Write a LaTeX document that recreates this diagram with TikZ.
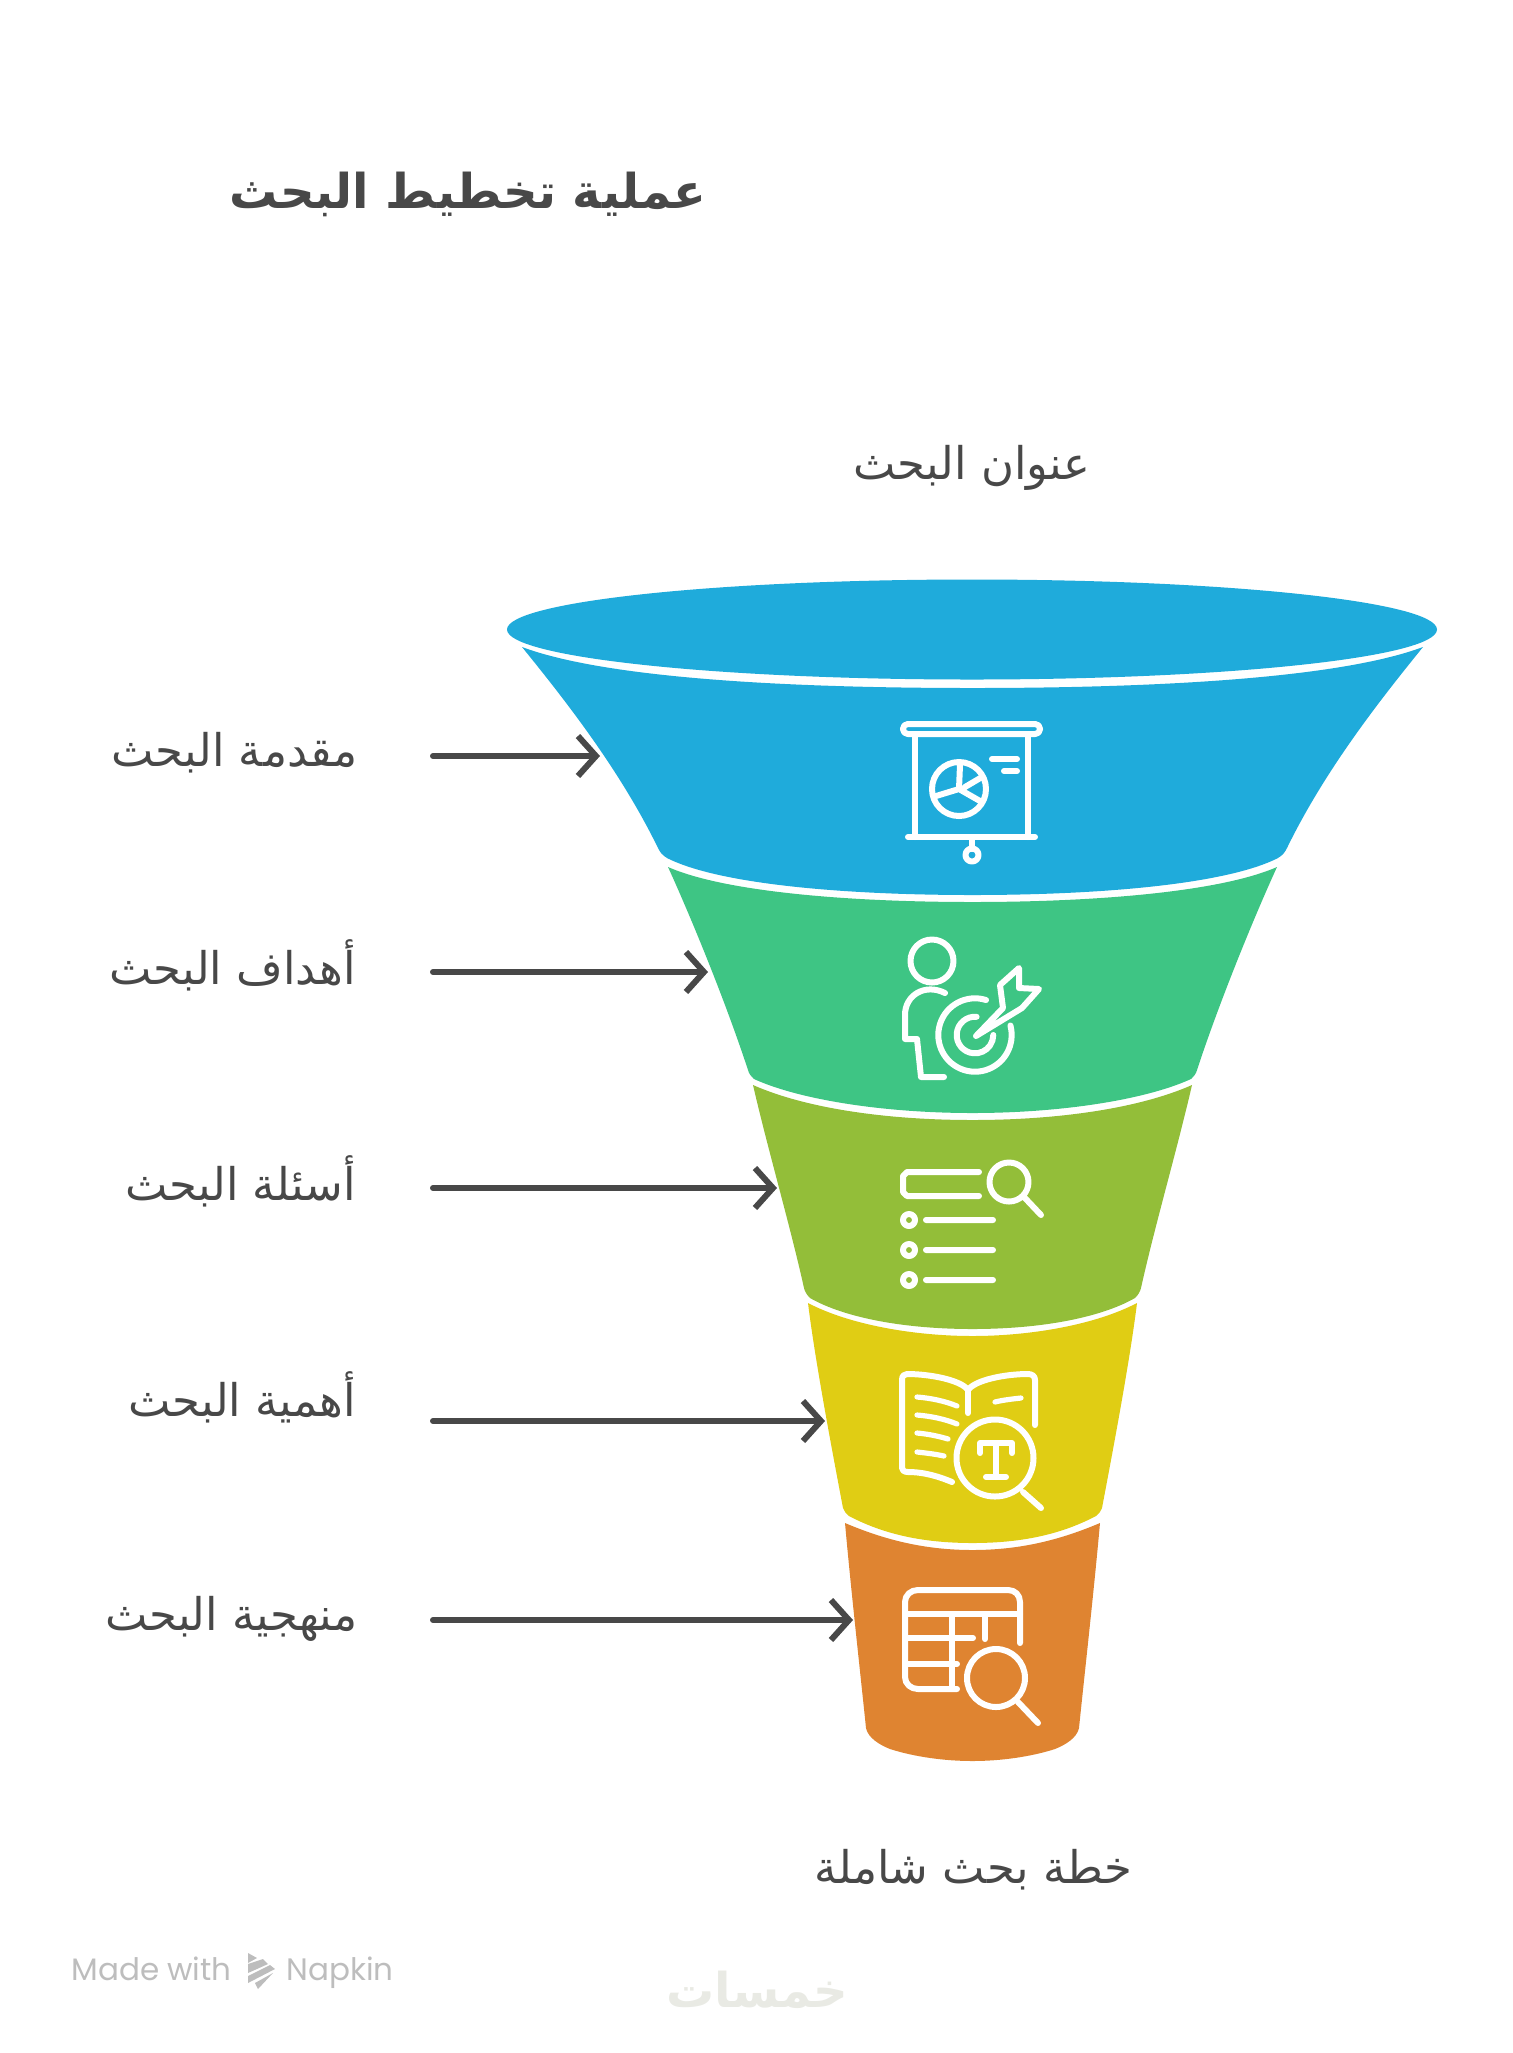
\documentclass[tikz,border=0pt]{standalone}
\usepackage{fontspec}
\usepackage{xcolor}
\usetikzlibrary{arrows.meta}
\TeXXeTstate=1
\setmainfont{Poppins}
\newfontfamily\arabicfont[Script=Arabic]{DejaVu Sans}
\definecolor{inkgrey}{HTML}{484848}
\definecolor{napkingrey}{HTML}{BDBDBD}
\definecolor{markgrey}{HTML}{E9EAE4}
\definecolor{funnelblue}{HTML}{1FABDB}
\definecolor{funnelgreen}{HTML}{3EC584}
\definecolor{funnelolive}{HTML}{93BE39}
\definecolor{funnelyellow}{HTML}{E0CD14}
\definecolor{funnelorange}{HTML}{DF8431}
\begin{document}
\begin{tikzpicture}[x=0.5pt,y=-0.5pt,>={Straight Barb[length=9pt,width=20pt,line width=3pt]},
    title node/.style={font=\arabicfont\bfseries\fontsize{24}{30}\selectfont,text=inkgrey,inner sep=0pt},
    label node/.style={font=\arabicfont\fontsize{22.5}{26}\selectfont,text=inkgrey,inner sep=0pt},
    footer node/.style={font=\fontsize{15.5}{18}\selectfont,text=napkingrey,inner sep=0pt,anchor=base west},
    pointer/.style={->,draw=inkgrey,line width=3pt,line cap=round},
    icon/.style={draw=white,line width=3pt,line cap=round,line join=round},
    fine icon/.style={draw=white,line width=2.6pt,line cap=round,line join=round}]
    \useasboundingbox (0,0) rectangle (1513,2053);

    % funnel
    \fill[funnelorange] (845,1523) .. controls (851,1590) and (860,1670) .. (866,1728) .. controls (868,1738) and (880,1745) .. (890,1749) .. controls (915,1757) and (945,1761) .. (972.5,1761) .. controls (1000,1761) and (1030,1757) .. (1055,1749) .. controls (1065,1745) and (1077,1738) .. (1079,1728) .. controls (1085,1670) and (1094,1590) .. (1100,1523) .. controls (1060,1540) and (1020,1550) .. (972.5,1550) .. controls (925,1550) and (885,1540) .. (845,1523) -- cycle;
    \fill[funnelyellow] (808,1303) .. controls (815,1360) and (832,1450) .. (843,1508) .. controls (845,1512) and (846,1514) .. (849,1516) .. controls (885,1535) and (925,1543) .. (972.5,1543) .. controls (1020,1543) and (1060,1535) .. (1096,1516) .. controls (1099,1514) and (1100,1512) .. (1102,1508) .. controls (1113,1450) and (1130,1360) .. (1137,1303) .. controls (1095,1325) and (1030,1336) .. (972.5,1336) .. controls (915,1336) and (850,1325) .. (808,1303) -- cycle;
    \fill[funnelolive] (753,1085) .. controls (768,1150) and (790,1225) .. (804,1288) .. controls (805,1292) and (807,1295) .. (810,1298) .. controls (845,1318) and (905,1329) .. (972.5,1329) .. controls (1040,1329) and (1100,1318) .. (1135,1298) .. controls (1138,1295) and (1140,1292) .. (1141,1288) .. controls (1155,1225) and (1177,1150) .. (1192,1085) .. controls (1140,1108) and (1060,1120) .. (972.5,1120) .. controls (885,1120) and (805,1108) .. (753,1085) -- cycle;
    \fill[funnelgreen] (668,867) .. controls (690,915) and (725,1000) .. (748,1070) .. controls (749,1074) and (751,1076) .. (754,1079) .. controls (800,1100) and (885,1113) .. (972.5,1113) .. controls (1060,1113) and (1145,1100) .. (1191,1079) .. controls (1194,1076) and (1196,1074) .. (1197,1070) .. controls (1220,1000) and (1255,915) .. (1277,867) .. controls (1220,892) and (1095,902) .. (972.5,902) .. controls (850,902) and (725,892) .. (668,867) -- cycle;
    \fill[funnelblue] (522,647) .. controls (565,700) and (620,770) .. (658,848) .. controls (660,852) and (662,855) .. (667,858) .. controls (720,885) and (850,895) .. (972.5,895) .. controls (1095,895) and (1225,885) .. (1278,858) .. controls (1283,855) and (1285,852) .. (1287,848) .. controls (1325,770) and (1380,700) .. (1423,647) .. controls (1340,678) and (1160,688) .. (972.5,688) .. controls (785,688) and (605,678) .. (522,647) -- cycle;
    \fill[funnelblue] (972,629.5) ellipse [x radius=465,y radius=50];

    % presentation icon
    \draw[icon,rounded corners=2.4pt] (903,724) rectangle (1040,734);
    \draw[icon] (915,734) -- (915,837) (1028,734) -- (1028,837) (908,837) -- (1035,837) (972,837) -- (972,849);
    \draw[icon] (972,855) circle (6.5);
    \draw[icon] (959,789) circle (27);
    \draw[icon] (960,765) -- (959,789) (936,796) -- (959,789) -- (980,801) (965,787) -- (982,777);
    \draw[icon] (992,759) -- (1017,759) (1004,771) -- (1017,771);

    % target icon
    \draw[icon] (932,961) circle (21.5);
    \draw[icon] (945,993) .. controls (925,983) and (905,995) .. (905,1015) -- (905,1039) -- (917,1039) -- (921,1077) -- (944,1077);
    \draw[icon] (975,1035) ++(-72.5:36.7) arc (-72.5:-375:36.7);
    \draw[icon] (975,1035) ++(-85:18.3) arc (-85:-360:18.3);
    \draw[icon] (976,1036) -- (1003,1008) -- (1000,985) -- (1019,968) -- (1019,988) -- (1039,989) -- (1022,1008) -- cycle;

    % list icon
    \draw[icon] (979,1172) -- (907,1172) -- (903,1176) -- (903,1192) -- (907,1196) -- (979,1196);
    \draw[icon] (1009,1182) circle (19.5) (1024,1197) -- (1041,1215);
    \foreach \rowy in {1220,1250,1280}
        \draw[icon] (909,\rowy) circle (6) (926,\rowy) -- (993,\rowy);

    % book icon
    \draw[icon] (1035,1425) -- (1035,1380) .. controls (1035,1376) and (1032,1374) .. (1028,1374) .. controls (1005,1374) and (975,1380) .. (968,1390) .. controls (961,1380) and (930,1374) .. (907,1374) .. controls (904,1374) and (902,1376) .. (902,1380) -- (902,1468) .. controls (902,1470) and (904,1472) .. (908,1472) .. controls (925,1472) and (940,1477) .. (952,1482);
    \draw[icon] (968,1390) -- (968,1413);
    \draw[fine icon] (917,1397) .. controls (930,1398) and (945,1401) .. (957,1406) (917,1415) .. controls (930,1416) and (945,1419) .. (957,1424) (917,1433) .. controls (928,1434) and (938,1436) .. (948,1439) (917,1452) .. controls (926,1453) and (935,1454) .. (944,1456) (995,1402) .. controls (1003,1400) and (1012,1399) .. (1021,1398);
    \draw[icon] (995,1458) circle (38.5) (1023,1492) -- (1041,1508);
    \draw[icon] (980,1453) -- (980,1443) -- (1012,1443) -- (1012,1453) (996,1443) -- (996,1477) (986,1477) -- (1006,1477);

    % table icon
    \draw[icon] (1020,1643) -- (1020,1602) .. controls (1020,1595) and (1015,1590) .. (1008,1590) -- (918,1590) .. controls (911,1590) and (905,1595) .. (905,1602) -- (905,1677) .. controls (905,1684) and (911,1689) .. (918,1689) -- (957,1689);
    \draw[icon] (905,1614) -- (1020,1614) (905,1638) -- (973,1638) (905,1664) -- (957,1664) (952,1614) -- (952,1689) (985,1614) -- (985,1639);
    \draw[icon] (996,1678) circle (29) (1018,1702) -- (1038,1723);

    % labels
    \node[title node] (plantitle) at (468,194) {\beginR عملية تخطيط البحث\endR};
    \node[label node] (topic) at (972,468) {\beginR عنوان البحث\endR};
    \node[label node] (fullplan) at (973,1870) {\beginR خطة بحث شاملة\endR};
    \node[label node,anchor=east] (intro) at (358,753) {\beginR مقدمة البحث\endR};
    \node[label node,anchor=east] (goals) at (356,965) {\beginR أهداف البحث\endR};
    \node[label node,anchor=east] (questions) at (356,1181) {\beginR أسئلة البحث\endR};
    \node[label node,anchor=east] (worth) at (356,1397) {\beginR أهمية البحث\endR};
    \node[label node,anchor=east] (method) at (358,1619) {\beginR منهجية البحث\endR};

    % pointers
    \coordinate (introend) at (600,756);
    \coordinate (goalsend) at (708,972);
    \coordinate (questionsend) at (777,1188);
    \coordinate (worthend) at (825,1421);
    \coordinate (methodend) at (853,1620);
    \draw[pointer] (433,756) -- (introend);
    \draw[pointer] (433,972) -- (goalsend);
    \draw[pointer] (433,1188) -- (questionsend);
    \draw[pointer] (433,1421) -- (worthend);
    \draw[pointer] (433,1620) -- (methodend);

    % footer
    \node[footer node] (madewith) at (71,1980) {Made with};
    \node[footer node] (napkin) at (286,1980) {Napkin};
    \fill[napkingrey] (248,1953) -- (257,1958) -- (248,1963) -- cycle (248,1964) -- (263,1959) -- (268,1964) -- (248,1973) -- cycle (248,1976) -- (270,1965) -- (275,1969) -- (248,1983) -- cycle (255,1983) -- (273,1973) -- (258,1989) -- cycle;
    \node[font=\arabicfont\bfseries\fontsize{24}{30}\selectfont,text=markgrey,inner sep=0pt] (watermark) at (757,1990) {\beginR خمسات\endR};
\end{tikzpicture}
\end{document}
